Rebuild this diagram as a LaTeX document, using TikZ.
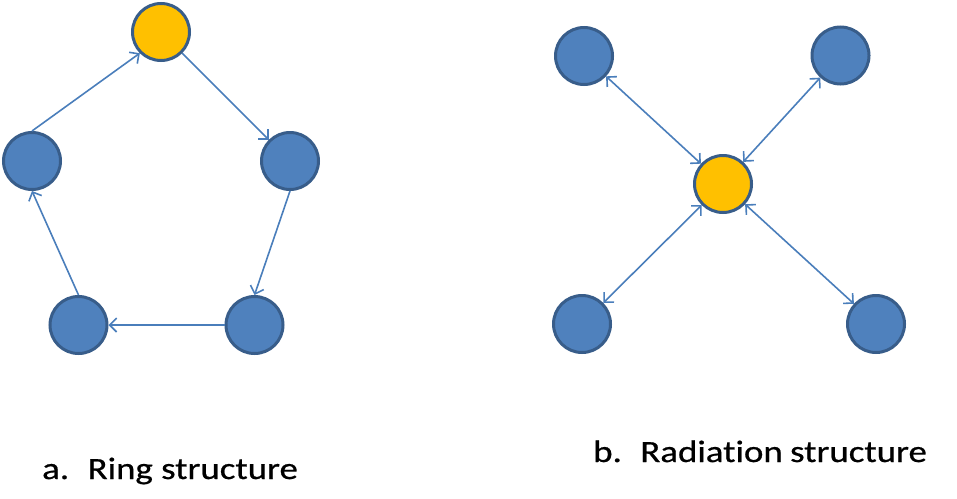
\documentclass[tikz,border=0pt]{standalone}
\usepackage{fontspec}
\setmainfont{Carlito}[Ligatures={NoCommon},FakeBold=0.6]
\usetikzlibrary{arrows.meta}
\definecolor{nblue}{HTML}{4F81BD}
\definecolor{nborder}{HTML}{385D8A}
\definecolor{nyellow}{HTML}{FFC000}
\definecolor{lblue}{HTML}{4A7EBB}
\tikzset{
  bnode/.style={circle,draw=nborder,line width=3pt,fill=nblue,minimum size=57pt,inner sep=0pt},
  ynode/.style={bnode,fill=nyellow},
  conn/.style={draw=lblue,line width=1.6pt,-{Straight Barb[length=7pt,width=14pt,line width=1.6pt]}},
  dconn/.style={conn,{Straight Barb[length=7pt,width=14pt,line width=1.6pt]}-{Straight Barb[length=7pt,width=14pt,line width=1.6pt]}},
  lbl/.style={anchor=base west,inner sep=0pt,font=\fontsize{31}{37}\selectfont}
}
\begin{document}
\begin{tikzpicture}[x=1pt,y=-1pt]
\useasboundingbox (0,0) rectangle (957,498);
% Ring
\node[ynode] (rt) at (161,32) {};
\node[bnode] (rl) at (32,161) {};
\node[bnode] (rr) at (290,161) {};
\node[bnode] (rbl) at (78.5,325) {};
\node[bnode] (rbr) at (254.5,325) {};
\draw[conn] (rt.south east) -- (rr.north west);
\draw[conn] (rr.south) -- (rbr.north);
\draw[conn] (rbr.west) -- (rbl.east);
\draw[conn] (rbl.north) -- (rl.south);
\draw[conn] (rl.north) -- (rt.south west);
% Radiation
\node[ynode] (c) at (723,184) {};
\node[bnode] (tl) at (584,56) {};
\node[bnode] (tr) at (840.5,55.5) {};
\node[bnode] (bl) at (582,324) {};
\node[bnode] (br) at (876,324) {};
\draw[dconn] (c) -- (tl);
\draw[dconn] (c) -- (tr);
\draw[dconn] (c) -- (bl);
\draw[dconn] (c) -- (br);
% Labels
\node[lbl] (la) at (42,479) {\scalebox{1.19}[1]{a.\hspace{0.5em}Ring structure}};
\node[lbl] (lb) at (593,462) {\scalebox{1.19}[1]{b.\hspace{0.5em}Radiation\hspace{0.2em}structure}};
\end{tikzpicture}
\end{document}
